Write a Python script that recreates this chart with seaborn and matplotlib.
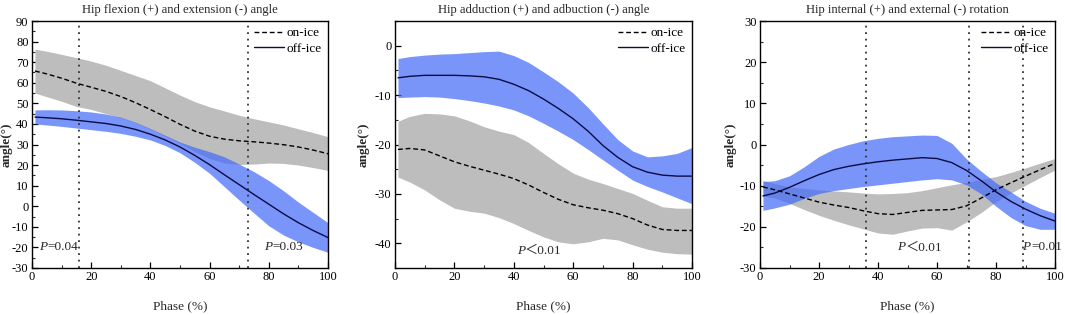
import matplotlib
matplotlib.use("Agg")
import matplotlib.pyplot as plt
import seaborn as sns
import pandas as pd
from matplotlib.ticker import MultipleLocator

# 相位 (%)
phase = [1, 5, 10, 15, 20, 25, 30, 35, 40, 45, 50, 55, 60, 65, 70, 75, 80, 85, 90, 95, 100]

# 屈伸角
flex_on = [65.7, 64.3, 62.2, 59.8, 57.8, 55.8, 53.3, 50.3, 47.0, 43.5, 39.8, 36.5, 34.0, 32.6, 31.8, 31.3, 30.7, 29.9, 28.8, 27.3, 25.5]
flex_on_hi = [76.3, 75.3, 73.8, 72.2, 70.5, 68.5, 66.0, 63.5, 61.0, 57.5, 54.0, 50.8, 48.3, 46.3, 44.2, 42.5, 41.0, 39.5, 37.6, 35.8, 33.8]
flex_on_lo = [55.0, 53.2, 51.0, 48.5, 47.0, 45.0, 43.0, 40.5, 37.5, 34.0, 30.5, 26.5, 23.2, 21.0, 20.3, 20.5, 21.0, 20.8, 20.0, 18.8, 17.4]
flex_off = [43.3, 43.0, 42.5, 41.8, 41.0, 40.2, 39.0, 37.3, 35.0, 32.2, 28.8, 24.7, 20.2, 15.3, 10.5, 5.7, 1.0, -3.7, -8.0, -11.8, -15.2]
flex_off_hi = [46.8, 46.9, 46.8, 46.4, 45.8, 44.8, 43.3, 40.8, 37.8, 34.5, 31.2, 28.7, 26.5, 24.0, 20.5, 16.8, 12.5, 7.5, 2.0, -3.0, -8.0]
flex_off_lo = [40.0, 39.5, 38.8, 38.0, 37.2, 36.4, 35.4, 34.0, 32.2, 29.5, 26.0, 21.3, 16.0, 9.5, 3.0, -3.3, -9.5, -14.0, -17.3, -20.0, -22.4]

# 内收外展角
add_on = [-21.0, -20.8, -21.1, -22.3, -23.5, -24.4, -25.2, -26.0, -26.9, -28.2, -29.7, -31.1, -32.2, -32.8, -33.3, -34.0, -35.0, -36.3, -37.2, -37.4, -37.4]
add_on_hi = [-15.3, -14.3, -13.7, -13.8, -14.2, -15.2, -16.4, -17.3, -18.0, -19.6, -21.8, -23.9, -25.8, -27.0, -27.9, -28.9, -29.9, -31.3, -32.6, -32.9, -32.9]
add_on_lo = [-26.6, -27.6, -29.2, -31.2, -32.9, -33.5, -33.9, -34.8, -36.0, -37.4, -38.7, -39.7, -40.1, -39.7, -39.0, -39.3, -40.3, -41.2, -41.8, -42.1, -42.2]
add_off = [-6.5, -6.2, -6.0, -6.0, -6.0, -6.1, -6.3, -6.8, -7.8, -9.1, -10.8, -12.7, -14.8, -17.3, -20.2, -22.6, -24.5, -25.6, -26.2, -26.4, -26.4]
add_off_hi = [-2.6, -2.2, -1.9, -1.7, -1.6, -1.4, -1.2, -1.1, -2.0, -3.4, -5.3, -7.3, -9.6, -12.5, -15.8, -19.0, -21.3, -22.5, -22.3, -21.8, -20.6]
add_off_lo = [-10.5, -10.4, -10.3, -10.4, -10.7, -11.1, -11.6, -12.2, -13.0, -14.2, -15.7, -17.3, -19.0, -21.0, -23.1, -25.2, -27.2, -28.5, -29.6, -30.8, -32.0]

# 内外旋角
rot_on = [-10.3, -11.0, -12.0, -13.0, -14.0, -14.7, -15.3, -16.1, -16.8, -17.0, -16.5, -16.0, -15.9, -15.8, -14.9, -13.0, -11.0, -9.3, -7.7, -6.1, -4.6]
rot_on_hi = [-8.7, -9.5, -10.3, -10.7, -11.0, -11.3, -11.5, -11.8, -12.0, -11.9, -11.7, -11.2, -10.5, -9.8, -9.2, -8.5, -7.8, -6.8, -5.7, -4.5, -3.4]
rot_on_lo = [-12.5, -13.0, -14.3, -15.8, -17.2, -18.4, -19.5, -20.5, -21.5, -21.8, -21.0, -20.3, -20.2, -20.8, -18.8, -16.5, -13.9, -11.8, -9.9, -8.0, -6.2]
rot_off = [-12.5, -11.8, -10.4, -8.8, -7.3, -6.1, -5.3, -4.7, -4.2, -3.8, -3.5, -3.2, -3.4, -4.4, -6.3, -8.8, -11.5, -13.8, -15.7, -17.3, -18.6]
rot_off_hi = [-9.0, -8.8, -7.6, -5.4, -2.9, -1.1, 0.0, 0.9, 1.5, 1.9, 2.1, 2.3, 2.2, 0.3, -3.5, -6.5, -9.3, -11.5, -13.8, -15.5, -16.7]
rot_off_lo = [-16.0, -15.4, -14.5, -13.1, -11.9, -11.2, -10.7, -10.2, -9.8, -9.4, -9.0, -8.6, -8.3, -8.6, -9.8, -12.0, -15.0, -17.7, -19.7, -20.6, -20.6]

titles = ['Hip flexion (+) and extension (-) angle',
          'Hip adduction (+) and adbuction (-) angle',
          'Hip internal (+) and external (-) rotation']
ylims = [(-30, 90), (-45, 5), (-30, 30)]
vlines = [[16, 73], [], [36, 71, 89]]
p_texts = [[(2.5, -20, '=0.04'), (78.5, -20, '=0.03')],
           [(41, -41.5, '＜0.01')],
           [(46.5, -25, '＜0.01'), (89, -25, '=0.01')]]
panels = [
    (flex_on, flex_on_hi, flex_on_lo, flex_off, flex_off_hi, flex_off_lo),
    (add_on, add_on_hi, add_on_lo, add_off, add_off_hi, add_off_lo),
    (rot_on, rot_on_hi, rot_on_lo, rot_off, rot_off_hi, rot_off_lo),
]

sns.set_theme(style="ticks")
plt.rcParams['font.family'] = ['Liberation Serif', 'Noto Sans CJK SC']
plt.rcParams['axes.unicode_minus'] = False

gray = '#bdbdbd'
blue = '#4169f8'
navy = '#0b0b45'

fig = plt.figure(figsize=(10.65, 3.15), dpi=100)
lefts = [32, 395, 760]
rights = [328, 692, 1055]
ylab_x = [-0.064, -0.084, -0.078]

for i in range(3):
    on, on_hi, on_lo, off, off_hi, off_lo = panels[i]
    ax = fig.add_axes([lefts[i] / 1065, 1 - 268 / 315,
                       (rights[i] - lefts[i]) / 1065, (268 - 21) / 315])
    df = pd.DataFrame({'phase': phase, 'on': on, 'off': off})

    # 阴影带 (均值 ± 标准差)
    ax.fill_between(phase, on_lo, on_hi, color=gray, lw=0, zorder=1)
    ax.fill_between(phase, off_lo, off_hi, color=blue, alpha=0.7, lw=0, zorder=2)

    sns.lineplot(data=df, x='phase', y='on', ax=ax, color='black', lw=1.0,
                 linestyle=(0, (3.5, 2)), label='on-ice', zorder=4)
    sns.lineplot(data=df, x='phase', y='off', ax=ax, color=navy, lw=1.0,
                 label='off-ice', zorder=4)

    for v in vlines[i]:
        ax.axvline(v, color='#333333', lw=1.3, linestyle=(0, (1, 2.6)), zorder=3)

    # P 值标注 (P 为斜体)
    for tx, ty, s in p_texts[i]:
        ax.text(tx, ty, 'P', fontsize=9.5, style='italic', va='center', ha='left', zorder=5)
        ax.annotate(s, xy=(tx, ty), xytext=(6, 0), textcoords='offset points',
                    fontsize=9.5, va='center', ha='left', zorder=5)

    ax.set_xlim(0, 100)
    ax.set_ylim(*ylims[i])
    ax.xaxis.set_major_locator(MultipleLocator(20))
    ax.xaxis.set_minor_locator(MultipleLocator(10))
    ax.yaxis.set_major_locator(MultipleLocator(10))
    ax.yaxis.set_minor_locator(MultipleLocator(5))
    ax.tick_params(which='major', direction='in', length=4, width=0.9,
                   labelsize=9, pad=2.5, colors='black')
    ax.tick_params(which='minor', direction='in', length=2, width=0.8)
    for sp in ax.spines.values():
        sp.set_color('black')
        sp.set_linewidth(1.0)

    ax.set_title(titles[i], fontsize=9.1, pad=6)
    ax.set_xlabel('Phase (%)', fontsize=9.5)
    ax.set_ylabel('angle(°)', fontsize=9.5, fontweight='bold')
    ax.xaxis.set_label_coords(0.5, -0.13)
    ax.yaxis.set_label_coords(ylab_x[i], 0.5)

    leg = ax.legend(loc='upper right', frameon=False, fontsize=9.5,
                    handlelength=2.3, handletextpad=0.2, labelspacing=0.25,
                    borderaxespad=0.15, borderpad=0.3)
    for t in leg.get_texts():
        t.set_color('black')

fig.savefig('out.png', dpi=100)
